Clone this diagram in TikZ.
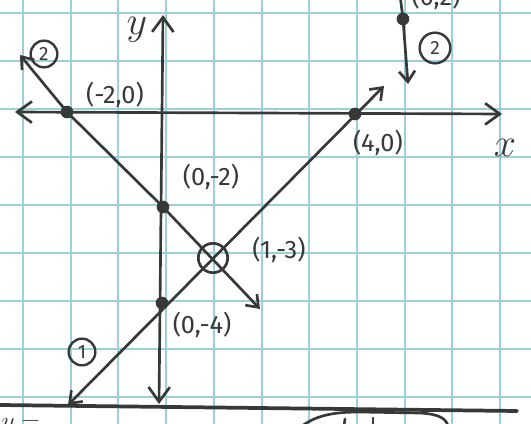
\documentclass[tikz,border=0pt]{standalone}
\usepackage{fix-cm}
\usepackage{fontspec}
\setmainfont{Fira Sans}
\usetikzlibrary{arrows.meta,positioning}
\definecolor{cgrid}{RGB}{156,206,220}
\definecolor{cink}{RGB}{55,57,57}
\tikzset{sketch/.style={x=0.75pt,y=-0.75pt,font=\fontsize{19}{22}\selectfont,line cap=round,line join=round},
  ink/.style={cink,line width=2pt},
  >={Straight Barb[length=8pt,width=12pt]},
  axtip/.style={{Straight Barb[length=11pt,width=16pt]}-{Straight Barb[length=11pt,width=16pt]}},
  dot/.style={circle,fill=cink,inner sep=0pt,minimum size=9.5pt},
  ring/.style={circle,draw=cink,line width=2pt,inner sep=0pt,minimum size=22pt},
  num/.style={circle,draw=cink,line width=1.8pt,inner sep=0pt,minimum size=20pt,font=\Large,text=cink},
  lbl/.style={text=cink,inner sep=1pt},
  axlbl/.style={text=cink,inner sep=1pt,font=\fontsize{30}{32}\selectfont}}

\begin{document}
\begin{tikzpicture}[sketch]
    \useasboundingbox (0,0) rectangle (531,424);
    \clip (0,0) rectangle (531,424);
    \fill[white] (0,0) rectangle (531,424);
    % grid paper
    \foreach \i in {0,...,10} \draw[cgrid,line width=1.5pt] ({23+47.7*\i},0) -- ({23+47.7*\i},424);
    \foreach \j in {0,...,8} \draw[cgrid,line width=1.5pt] (0,{13+48*\j}) -- (531,{13+48*\j});
    % axes
    \coordinate (xl) at (15,112); \coordinate (xr) at (502,114);
    \coordinate (yt) at (163,15); \coordinate (yb) at (159,404);
    \draw[ink,axtip] (xl) -- (xr);
    \draw[ink,axtip] (yt) -- (yb);
    \node[axlbl] (ylab) at (137,30) {$y$};
    \node[axlbl] (xlab) at (505,148) {$x$};
    % points
    \node[dot] (pm20) at (67,112) {};
    \node[dot] (p0m2) at (163,207) {};
    \node[dot] (p0m4) at (162,303) {};
    \node[dot] (p40)  at (355,114) {};
    \node[ring] (p1m3) at (213,258) {};
    % line 1
    \coordinate (a1) at (68,405); \coordinate (b1) at (384,86);
    \draw[ink,<->] (a1) -- (b1);
    \node[num] (n1) at (82,352) {1};
    % line 2
    \coordinate (a2) at (20,55); \coordinate (b2) at (260,309);
    \draw[ink,->] (pm20.center) -- (a2);
    \draw[ink,->] (pm20.center) -- (p0m2.center) -- (b2);
    \node[num] (n2) at (44,54) {2};
    % labels
    \node[lbl] (lm20) at (115,95)  {(-2,0)};
    \node[lbl] (l0m2) at (211,177) {(0,-2)};
    \node[lbl] (l40)  at (378,143) {(4,0)};
    \node[lbl] (l1m3) at (279,250) {(1,-3)};
    \node[lbl] (l0m4) at (202,325) {(0,-4)};
    % cut-off graph at the top right
    \node[dot] (p02) at (403,19) {};
    \coordinate (c2) at (400,-5); \coordinate (d2) at (408,84);
    \draw[ink] (c2) -- (p02.center);
    \draw[ink,->] (p02.center) -- (d2);
    \node[lbl] (l02) at (436,-3) {(0,2)};
    \node[num,minimum size=23pt] (n2b) at (435,48) {2};
    % bottom of the page
    \coordinate (ba) at (0,405); \coordinate (bb) at (517,411);
    \draw[cink,line width=2.8pt] (ba) -- (bb);
    \node[lbl,anchor=north west] (yeq) at (0,417) {$y=$};
    \draw[ink] (302,426) .. controls (318,414) and (338,412) .. (360,412) -- (420,413)
      .. controls (438,414) and (446,418) .. (448,426);
    \draw[ink] (345,419) -- (344,426);
    \draw[ink] (373,418) -- (373,426);
\end{tikzpicture}
\end{document}
